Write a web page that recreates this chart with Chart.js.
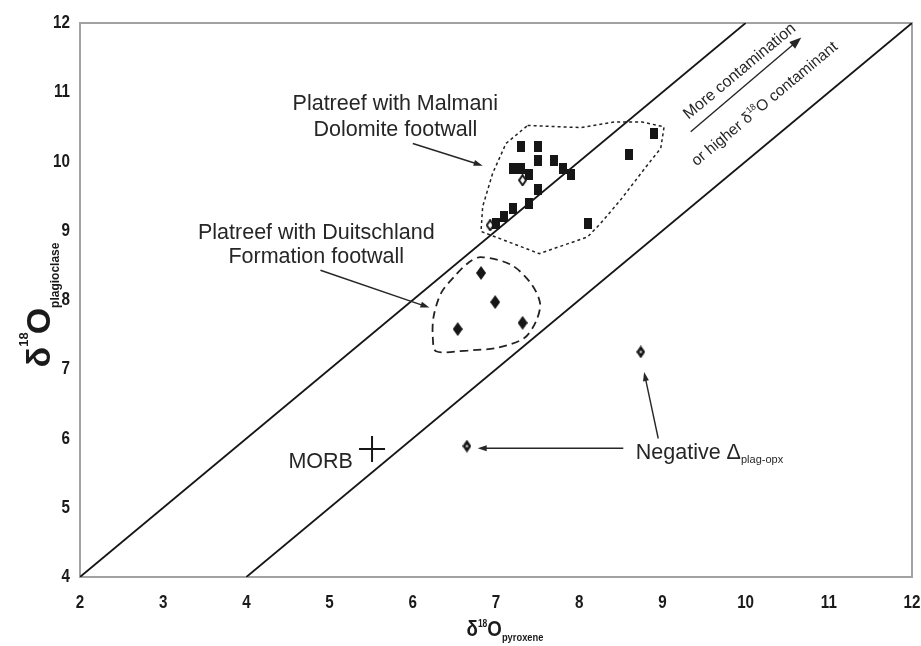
<!DOCTYPE html>
<html>
<head>
<meta charset="utf-8">
<script src="https://cdn.jsdelivr.net/npm/chart.js@4.4.1/dist/chart.umd.min.js"></script>
<style>
  html, body { margin: 0; padding: 0; background: #fff; }
  #wrap { width: 921px; height: 646px; }
</style>
</head>
<body>
<div id="wrap"><canvas id="isotoposChart" width="921" height="646"></canvas></div>
<script>
// ======================================================================
// DATOS
// ======================================================================
const xTicks = [2, 3, 4, 5, 6, 7, 8, 9, 10, 11, 12];
const yTicks = [4, 5, 6, 7, 8, 9, 10, 11, 12];

// Platreef con Malmani Dolomite (cuadrados)
const malmaniX = [8.90, 8.60, 7.30, 7.50, 7.50, 7.70, 7.20, 7.30, 7.40, 7.80, 7.90, 7.50, 7.40, 7.20, 7.10, 7.00, 8.10];
const malmaniY = [10.41, 10.10, 10.21, 10.21, 10.01, 10.01, 9.90, 9.90, 9.81, 9.90, 9.81, 9.60, 9.40, 9.32, 9.20, 9.11, 9.11];

// rombos abiertos dentro del grupo Malmani
const abiertosX = [7.32, 6.93];
const abiertosY = [9.73, 9.08];

// Platreef con Duitschland (rombos)
const duitschlandX = [6.82, 6.99, 7.32, 6.54];
const duitschlandY = [8.39, 7.97, 7.67, 7.58];

// Delta negativo
const negativoX = [8.74, 6.65];
const negativoY = [7.25, 5.89];

// MORB
const morbX = [5.51];
const morbY = [5.85];

// rectas de referencia
const rectaAX = [2, 10];
const rectaAY = [4, 12];
const rectaBX = [4, 12];
const rectaBY = [4, 12];

// contornos
const contornoMalmaniX = [7.38, 8.02, 8.42, 8.76, 9.02, 8.98, 8.82, 8.50, 8.26, 8.10, 7.52, 6.82, 6.84, 6.96, 7.12];
const contornoMalmaniY = [10.52, 10.49, 10.57, 10.57, 10.50, 10.19, 9.95, 9.45, 9.11, 8.91, 8.67, 8.99, 9.35, 9.83, 10.26];
const contornoDuitX = [6.66, 6.28, 6.24, 6.25, 6.34, 6.50, 6.68, 6.82, 7.18, 7.42, 7.53, 7.48, 7.34, 7.02];
const contornoDuitY = [7.27, 7.26, 7.47, 7.76, 8.10, 8.34, 8.55, 8.62, 8.51, 8.24, 7.95, 7.69, 7.45, 7.31];

// ======================================================================
// ANOTACIONES (coordenadas en unidades de datos)
// ======================================================================
const textos = ["Platreef with Malmani", "Dolomite footwall", "Platreef with Duitschland", "Formation footwall", "MORB"];
const textosX = [5.79, 5.79, 4.84, 4.84, 5.28];
const textosY = [10.74, 10.37, 8.88, 8.53, 5.57];
const textosAlign = ["center", "center", "center", "center", "right"];

// flechas: [x1, y1, x2, y2]
const flechas = [
  [6.00, 10.26, 6.84, 9.94],
  [4.89, 8.43, 6.20, 7.89],
  [8.53, 5.86, 6.78, 5.86],
  [8.95, 6.00, 8.78, 6.96],
  [9.34, 10.43, 10.67, 11.79]
];

const FUENTE = "'Liberation Sans', Arial, sans-serif";
const NEGRO = "#161616";
const ESTRECHO = 0.8; // ancho de las cifras de los ejes (fuente condensada)

function pares(xs, ys) {
  return xs.map((x, i) => ({ x, y: ys[i] }));
}

function cerrado(xs, ys) {
  const p = pares(xs, ys);
  p.push({ x: xs[0], y: ys[0] });
  return p;
}

// marcadores hechos a mano
function marcador(w, h, forma, relleno, borde, punto) {
  const c = document.createElement("canvas");
  c.width = w; c.height = h;
  const g = c.getContext("2d");
  g.beginPath();
  if (forma === "rect") {
    g.rect(0, 0, w, h);
  } else {
    const m = borde ? 1 : 0;
    g.moveTo(w / 2, m); g.lineTo(w - m, h / 2); g.lineTo(w / 2, h - m); g.lineTo(m, h / 2);
    g.closePath();
  }
  g.fillStyle = relleno;
  g.fill();
  if (borde) { g.lineWidth = 2; g.strokeStyle = borde; g.stroke(); }
  if (punto) {
    g.fillStyle = "#fff";
    g.fillRect(w / 2 - 1, h / 2 - 1, 2, 2);
  }
  return c;
}

const mCuadrado = marcador(8, 11, "rect", NEGRO);
const mRombo = marcador(10, 14, "rombo", NEGRO);
const mRomboPunto = marcador(9, 13, "rombo", NEGRO, null, true);
const mRomboAbierto = marcador(9, 12, "rombo", "#fff", NEGRO);

// ======================================================================
// DIBUJO DE TEXTO CON SUB/SUPERINDICES
// ======================================================================
function textoRico(ctx, partes, x, y, align) {
  let total = 0;
  partes.forEach(p => { ctx.font = p.f; total += ctx.measureText(p.t).width + (p.k || 0); });
  let cx = align === "center" ? x - total / 2 : (align === "right" ? x - total : x);
  ctx.textAlign = "left";
  partes.forEach(p => {
    ctx.font = p.f;
    ctx.fillText(p.t, cx, y + (p.dy || 0));
    cx += ctx.measureText(p.t).width + (p.k || 0);
  });
}

function flecha(ctx, x1, y1, x2, y2, largo, ancho) {
  const a = Math.atan2(y2 - y1, x2 - x1);
  ctx.beginPath();
  ctx.moveTo(x1, y1);
  ctx.lineTo(x2 - Math.cos(a) * largo * 0.6, y2 - Math.sin(a) * largo * 0.6);
  ctx.stroke();
  ctx.save();
  ctx.translate(x2, y2);
  ctx.rotate(a);
  ctx.beginPath();
  ctx.moveTo(0, 0);
  ctx.lineTo(-largo, -ancho / 2);
  ctx.lineTo(-largo, ancho / 2);
  ctx.closePath();
  ctx.fill();
  ctx.restore();
}

const pluginMarco = {
  id: "marco",
  beforeDatasetsDraw(chart) {
    const { ctx, chartArea: a } = chart;
    ctx.save();
    ctx.strokeStyle = "#a2a2a2";
    ctx.lineWidth = 2;
    ctx.strokeRect(a.left, a.top, a.right - a.left, a.bottom - a.top);
    ctx.restore();
  }
};

// cifras de los ejes dibujadas estrechas
const pluginCifras = {
  id: "cifras",
  afterDraw(chart) {
    const { ctx, chartArea: a, scales: { x, y } } = chart;
    ctx.save();
    ctx.fillStyle = "#1a1a1a";
    ctx.font = "bold 19px " + FUENTE;
    ctx.textBaseline = "middle";
    xTicks.forEach(v => {
      ctx.save();
      ctx.translate(x.getPixelForValue(v), a.bottom + 26);
      ctx.scale(ESTRECHO, 1);
      ctx.textAlign = "center";
      ctx.fillText(String(v), 0, 0);
      ctx.restore();
    });
    yTicks.forEach(v => {
      ctx.save();
      ctx.translate(a.left - 10, y.getPixelForValue(v));
      ctx.scale(ESTRECHO, 1);
      ctx.textAlign = "right";
      ctx.fillText(String(v), 0, 0);
      ctx.restore();
    });
    ctx.restore();
  }
};

const pluginAnotaciones = {
  id: "anotaciones",
  afterDatasetsDraw(chart) {
    const { ctx, scales: { x, y } } = chart;
    ctx.save();
    ctx.fillStyle = "#262626";
    ctx.strokeStyle = "#262626";
    ctx.textBaseline = "alphabetic";

    ctx.font = "21.5px " + FUENTE;
    textos.forEach((t, i) => {
      ctx.textAlign = textosAlign[i];
      ctx.fillText(t, x.getPixelForValue(textosX[i]), y.getPixelForValue(textosY[i]));
    });

    // Negative Δplag-opx
    textoRico(ctx, [
      { t: "Negative \u0394", f: "21.5px " + FUENTE },
      { t: "plag-opx", f: "11px " + FUENTE, dy: 4 }
    ], x.getPixelForValue(8.68), y.getPixelForValue(5.70), "left");

    ctx.lineWidth = 1.4;
    flechas.forEach((f, i) => {
      const grande = i === flechas.length - 1;
      flecha(ctx, x.getPixelForValue(f[0]), y.getPixelForValue(f[1]),
        x.getPixelForValue(f[2]), y.getPixelForValue(f[3]),
        grande ? 12 : 9, grande ? 9 : 6);
    });

    // textos inclinados de la contaminacion
    const ang = Math.atan2(y.getPixelForValue(12) - y.getPixelForValue(4), x.getPixelForValue(12) - x.getPixelForValue(4));
    ctx.textBaseline = "middle";
    ctx.save();
    ctx.translate(x.getPixelForValue(9.93), y.getPixelForValue(11.30));
    ctx.rotate(ang);
    textoRico(ctx, [{ t: "More contamination", f: "16px " + FUENTE }], 0, 0, "center");
    ctx.restore();
    ctx.save();
    ctx.translate(x.getPixelForValue(10.23), y.getPixelForValue(10.83));
    ctx.rotate(ang);
    textoRico(ctx, [
      { t: "or higher \u03b4", f: "15.5px " + FUENTE },
      { t: "18", f: "9px " + FUENTE, dy: -5 },
      { t: "O contaminant", f: "15.5px " + FUENTE }
    ], 0, 0, "center");
    ctx.restore();

    ctx.restore();
  },
  afterDraw(chart) {
    const { ctx } = chart;
    ctx.save();
    ctx.fillStyle = "#1a1a1a";
    ctx.textBaseline = "alphabetic";

    // titulo eje X
    ctx.save();
    ctx.translate(505, 636);
    ctx.scale(0.85, 1);
    textoRico(ctx, [
      { t: "\u03b4", f: "bold 22px " + FUENTE },
      { t: "18", f: "bold 10px " + FUENTE, dy: -9 },
      { t: "O", f: "bold 22px " + FUENTE },
      { t: "pyroxene", f: "bold 11px " + FUENTE, dy: 5 }
    ], 0, 0, "center");
    ctx.restore();

    // titulo eje Y
    ctx.translate(50, 305);
    ctx.rotate(-Math.PI / 2);
    textoRico(ctx, [
      { t: "\u03b4", f: "bold 34px " + FUENTE },
      { t: "18", f: "bold 13px " + FUENTE, dy: -22, k: -2 },
      { t: "O", f: "bold 34px " + FUENTE },
      { t: "plagioclase", f: "bold 12px " + FUENTE, dy: 9 }
    ], 0, 0, "center");
    ctx.restore();
  }
};

const ejeComun = {
  type: "linear",
  grid: { display: false },
  border: { display: false },
  ticks: { display: false, stepSize: 1 }
};

new Chart(document.getElementById("isotoposChart"), {
  type: "scatter",
  data: {
    datasets: [
      { label: "Malmani", data: pares(malmaniX, malmaniY), pointStyle: mCuadrado, pointRadius: 5, order: 0 },
      { label: "Malmani rombos", data: pares(abiertosX, abiertosY), pointStyle: mRomboAbierto, pointRadius: 5, order: 0 },
      { label: "Duitschland", data: pares(duitschlandX, duitschlandY), pointStyle: mRombo, pointRadius: 5, order: 0 },
      { label: "Negativo", data: pares(negativoX, negativoY), pointStyle: mRomboPunto, pointRadius: 5, order: 0 },
      { label: "MORB", data: pares(morbX, morbY), pointStyle: "cross", pointRadius: 13, borderColor: NEGRO, borderWidth: 2, order: 0 },
      { label: "y = x + 2", data: pares(rectaAX, rectaAY), showLine: true, borderColor: NEGRO, borderWidth: 1.8, pointRadius: 0, order: 5 },
      { label: "y = x", data: pares(rectaBX, rectaBY), showLine: true, borderColor: NEGRO, borderWidth: 1.8, pointRadius: 0, order: 5 },
      { label: "contorno Malmani", data: cerrado(contornoMalmaniX, contornoMalmaniY), showLine: true, borderColor: "#222",
        borderWidth: 1.5, borderDash: [3, 3], pointRadius: 0, tension: 0, order: 4 },
      { label: "contorno Duitschland", data: cerrado(contornoDuitX, contornoDuitY), showLine: true, borderColor: "#222",
        borderWidth: 1.8, borderDash: [8, 5], pointRadius: 0, tension: 0.3, order: 4 }
    ]
  },
  options: {
    responsive: false,
    animation: false,
    layout: { padding: { top: 23, right: 9, bottom: 0, left: 0 }, autoPadding: false },
    plugins: { legend: { display: false }, tooltip: { enabled: false } },
    scales: {
      x: {
        ...ejeComun,
        min: xTicks[0], max: xTicks[xTicks.length - 1],
        afterFit: s => { s.height = 69; s.paddingLeft = 0; s.paddingRight = 0; }
      },
      y: {
        ...ejeComun,
        min: yTicks[0], max: yTicks[yTicks.length - 1],
        afterFit: s => { s.width = 80; s.paddingTop = 0; s.paddingBottom = 0; }
      }
    }
  },
  plugins: [pluginMarco, pluginCifras, pluginAnotaciones]
});
</script>
</body>
</html>
